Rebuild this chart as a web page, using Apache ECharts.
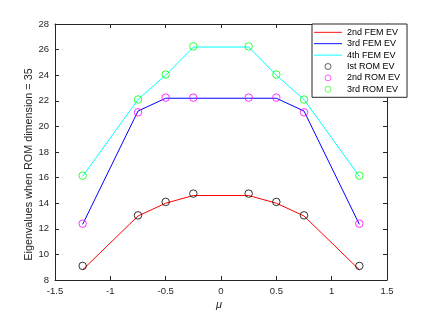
<!DOCTYPE html>
<html><head><meta charset="utf-8">
<script src="https://cdn.jsdelivr.net/npm/echarts@6/dist/echarts.min.js"></script>
<style>html,body{margin:0;padding:0;background:#fff}#c{width:428px;height:315px}</style>
</head><body><div id="c"></div>
<script>
var mu = [-1.25, -0.75, -0.5, -0.25, 0.25, 0.5, 0.75, 1.25];
var fem2 = [8.8, 13.0, 14.0, 14.6, 14.6, 14.0, 13.0, 8.8];
var fem3 = [12.35, 21.2, 22.2, 22.2, 22.2, 22.2, 21.2, 12.35];
var fem4 = [16.1, 22.1, 24.0, 26.2, 26.2, 24.0, 22.1, 16.1];
var rom1 = [9.1, 13.05, 14.1, 14.75, 14.75, 14.1, 13.05, 9.1];
var rom2 = [12.4, 21.1, 22.25, 22.25, 22.25, 22.25, 21.1, 12.4];
var rom3 = [16.15, 22.1, 24.05, 26.25, 26.25, 24.05, 22.1, 16.15];
var xTicks = [-1.5, -1, -0.5, 0, 0.5, 1, 1.5];
var yTicks = [8, 10, 12, 14, 16, 18, 20, 22, 24, 26, 28];
var names = ['2nd FEM EV', '3rd FEM EV', '4th FEM EV', 'Ist ROM EV', '2nd ROM EV', '3rd ROM EV'];

function pairs(ys){ return mu.map(function(x,i){ return [x, ys[i]]; }); }
var font = 'Liberation Sans, Arial, sans-serif';
var axCol = '#262626';
function xAx(pos, labels){
  return {type:'value', position:pos, min:xTicks[0], max:xTicks[xTicks.length-1], interval:0.5,
    axisLine:{show:true,onZero:false,lineStyle:{color:axCol,width:1}},
    axisTick:{show:true,inside:true,length:4,lineStyle:{color:axCol}},
    axisLabel:{show:labels,color:axCol,fontSize:9.5,fontFamily:font,margin:6},
    splitLine:{show:false}};
}
function yAx(pos, labels){
  return {type:'value', position:pos, min:yTicks[0], max:yTicks[yTicks.length-1], interval:2,
    axisLine:{show:true,onZero:false,lineStyle:{color:axCol,width:1}},
    axisTick:{show:true,inside:true,length:4,lineStyle:{color:axCol}},
    axisLabel:{show:labels,color:axCol,fontSize:9.5,fontFamily:font,margin:6},
    splitLine:{show:false}};
}
var chart = echarts.init(document.getElementById('c'), null, {renderer:'canvas'});
var lineCols = ['#ff0000','#0000ff','#00ffff'];
var romCols = ['#000000','#ff00ff','#00ff00'];
var femData = [fem2, fem3, fem4];
var romData = [rom1, rom2, rom3];
var series = [];
femData.forEach(function(d,i){
  series.push({name:names[i], type:'line', data:pairs(d), symbol:'none',
    lineStyle:{color:lineCols[i], width:1}, itemStyle:{color:lineCols[i]}, z:2});
});
romData.forEach(function(d,i){
  series.push({name:names[3+i], type:'scatter', data:pairs(d), symbol:'circle', symbolSize:7.5,
    itemStyle:{color:'rgba(0,0,0,0)', borderColor:romCols[i], borderWidth:1}, z:3});
});
chart.setOption({
  animation:false,
  grid:{left:55, right:41, top:24, bottom:35},
  xAxis:[xAx('bottom', true), xAx('top', false)],
  yAxis:[yAx('left', true), yAx('right', false)],
  legend:{
    orient:'vertical', left:312, top:24,
    backgroundColor:'#fff', borderColor:axCol, borderWidth:1, borderRadius:0,
    padding:[2.6,7,2.3,2], itemGap:0, itemWidth:28, itemHeight:6,
    itemStyle:{borderWidth:0.8},
    textStyle:{fontSize:9, lineHeight:11.4, fontFamily:font, color:'#000'},
    data:names.map(function(n,i){ return i<3 ? {name:n, icon:'path://M0,0L30,0L30,1L0,1Z'} : {name:n, icon:'circle'}; })
  },
  graphic:[
    {type:'text', position:[219, 305], style:{text:'μ', font:'italic 11px '+font, fill:axCol, textAlign:'center', textVerticalAlign:'middle'}},
    {type:'text', position:[29.5, 164.5], rotation:Math.PI/2, style:{text:'Eigenvalues when ROM dimension = 35', font:'10.8px '+font, fill:axCol, textAlign:'center', textVerticalAlign:'middle'}}
  ],
  series:series
});
</script></body></html>
